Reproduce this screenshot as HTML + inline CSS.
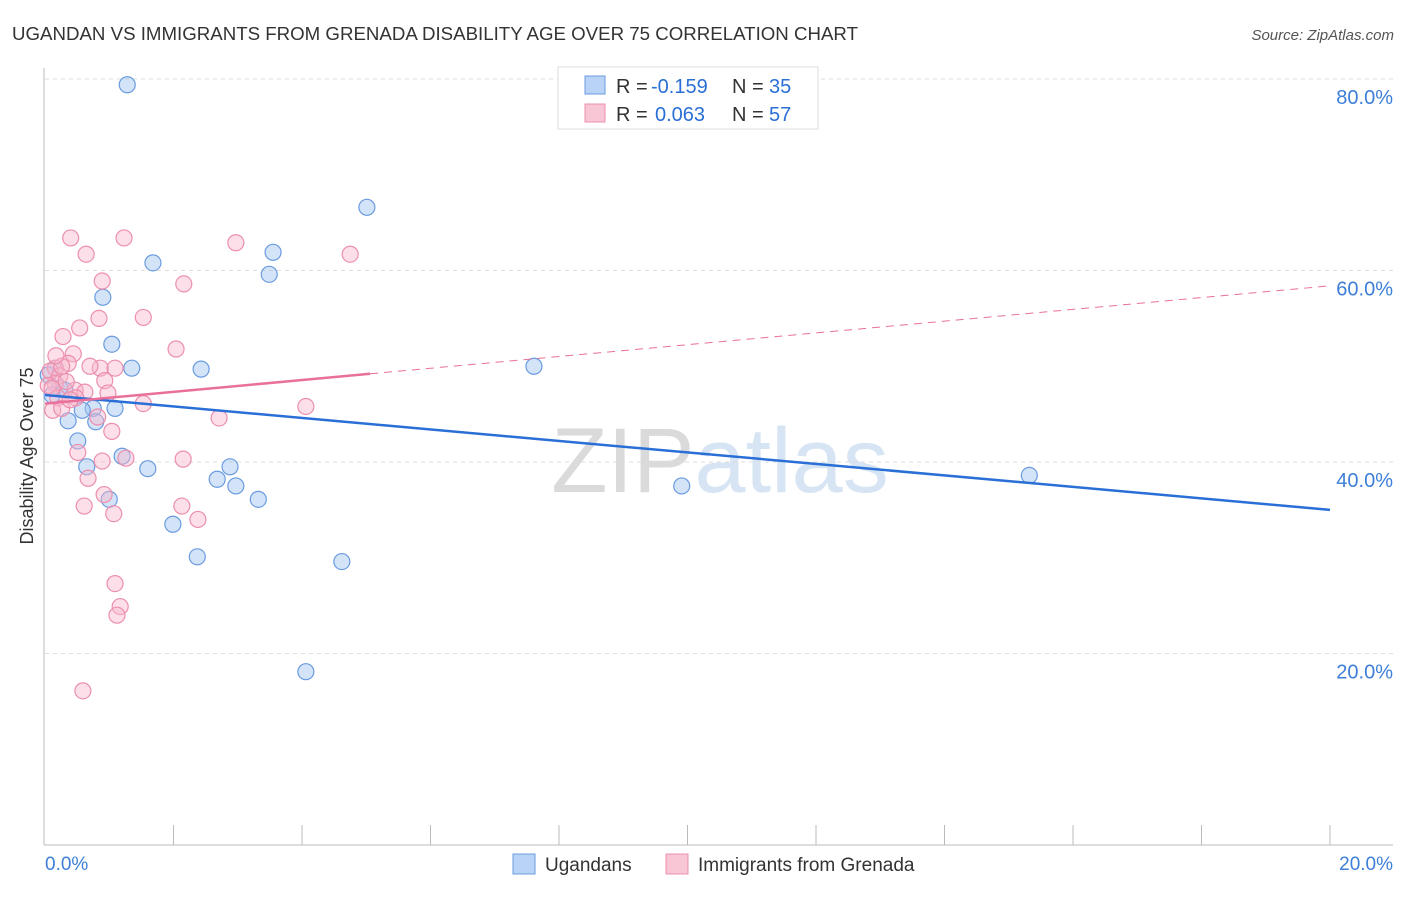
<!DOCTYPE html>
<html><head><meta charset="utf-8"><style>
body{margin:0;background:#fff;font-family:"Liberation Sans",sans-serif}
svg text{font-family:"Liberation Sans",sans-serif}
</style></head><body>
<svg id="c" width="1406" height="892">
<text x="12" y="40" font-size="18" fill="#333" textLength="846" lengthAdjust="spacingAndGlyphs">UGANDAN VS IMMIGRANTS FROM GRENADA DISABILITY AGE OVER 75 CORRELATION CHART</text>
<text x="1394" y="40" font-size="15" fill="#555" font-style="italic" text-anchor="end">Source: ZipAtlas.com</text>
<text x="720" y="492" font-size="92" fill="#e4e4e4" text-anchor="middle" font-family="Liberation Serif"><tspan fill="#dadada">ZIP</tspan><tspan fill="#d6e4f4" font-family="Liberation Sans">atlas</tspan></text>
<g id="grid"></g><g id="marks"></g>
<text transform="translate(33,456) rotate(-90)" font-size="18" fill="#333" text-anchor="middle">Disability Age Over 75</text>
<g>
<rect x="558" y="67" width="260" height="62" fill="#fff" stroke="#ddd"/>
<rect x="585" y="76" width="20" height="18" fill="#b8d3f5" stroke="#6a9be0"/>
<rect x="585" y="104" width="20" height="18" fill="#f9c6d5" stroke="#ec8fae"/>
<text x="616" y="93" font-size="20" fill="#333">R =</text>
<text x="651" y="93" font-size="20" fill="#2a6fd6">-0.159</text>
<text x="732" y="93" font-size="20" fill="#333">N =</text>
<text x="769" y="93" font-size="20" fill="#2a6fd6">35</text>
<text x="616" y="121" font-size="20" fill="#333">R =</text>
<text x="655" y="121" font-size="20" fill="#2a6fd6">0.063</text>
<text x="732" y="121" font-size="20" fill="#333">N =</text>
<text x="769" y="121" font-size="20" fill="#2a6fd6">57</text>
</g>
<g>
<rect x="513" y="854" width="22" height="20" fill="#b8d3f5" stroke="#6a9be0"/>
<text x="545" y="871" font-size="19" fill="#333">Ugandans</text>
<rect x="666" y="854" width="22" height="20" fill="#f9c6d5" stroke="#ec8fae"/>
<text x="698" y="871" font-size="19" fill="#333">Immigrants from Grenada</text>
</g>
</svg>
<script>
const blueX=[1.28,5.01,1.68,3.55,3.49,0.90,1.04,1.35,2.43,7.61,0.16,0.05,0.23,0.31,0.75,0.58,1.09,0.36,0.79,0.51,1.20,1.60,0.65,2.88,2.68,2.97,3.32,1.00,9.91,15.32,1.99,2.37,4.62,4.06,0.11];
const blueY=[79.4,66.6,60.8,61.9,59.6,57.2,52.3,49.8,49.7,50.0,49.8,49.1,47.7,47.5,45.6,45.4,45.6,44.3,44.2,42.2,40.6,39.3,39.5,39.5,38.2,37.5,36.1,36.1,37.5,38.6,33.5,30.1,29.6,18.1,47.0];
const pinkX=[0.40,1.23,2.97,0.64,4.75,0.89,2.16,1.53,0.84,0.54,0.28,2.04,0.44,0.36,0.86,1.09,0.16,0.08,0.23,0.93,0.16,0.05,0.47,0.62,0.98,0.20,0.48,1.53,4.06,0.12,0.26,0.82,2.71,1.04,1.26,0.51,2.15,0.89,0.67,0.92,2.13,0.61,2.38,1.07,1.09,1.17,1.12,0.59,0.11,0.26,0.39,0.70,0.33,0.17];
const pinkY=[63.4,63.4,62.9,61.7,61.7,58.9,58.6,55.1,55.0,54.0,53.1,51.8,51.3,50.3,49.8,49.8,49.8,49.5,49.0,48.5,48.2,48.0,47.5,47.3,47.2,46.7,46.7,46.1,45.8,45.4,45.6,44.7,44.6,43.2,40.4,41.0,40.3,40.1,38.3,36.6,35.4,35.4,34.0,34.6,27.3,24.9,24.0,16.1,47.7,50.0,46.5,50.0,48.4,51.1];
const yTicks=[20,40,60,80];
const xTickLabels=["0.0%","20.0%"];
const blueTrend=[47.0,35.0];
const pinkTrend=[46.1,58.4];
const pinkSolidEnd=5.06;
const NS="http://www.w3.org/2000/svg";
const sx=v=>45+v*64.25, sy=v=>845-v*9.575;
function mk(t,a,p){const e=document.createElementNS(NS,t);for(const k in a)e.setAttribute(k,a[k]);p.appendChild(e);return e;}
const g=document.getElementById('grid'), m=document.getElementById('marks');
mk('line',{x1:44,y1:68,x2:44,y2:845,stroke:'#bbb','stroke-width':1},g);
mk('line',{x1:44,y1:845,x2:1393,y2:845,stroke:'#bbb','stroke-width':1},g);
for(let i=1;i<=10;i++){const l=mk('line',{x1:sx(i*2),y1:825,x2:sx(i*2),y2:845,stroke:'#bbb'},g);

}
yTicks.forEach(v=>{const l=mk('line',{x1:45,y1:sy(v),x2:1393,y2:sy(v),stroke:'#ddd','stroke-dasharray':'4,4'},g);


const t=mk('text',{x:1393,y:sy(v)+25,'font-size':20,fill:'#3d7fd8','text-anchor':'end'},g);t.textContent=v.toFixed(1)+'%';

});
[[0,'start',45],[1,'end',1393]].forEach(([i,a,x])=>{const t=mk('text',{x:x,y:870,'font-size':19,fill:'#3d7fd8','text-anchor':a},g);t.textContent=xTickLabels[i];

});
blueX.forEach((x,i)=>{const c=mk('circle',{cx:sx(x),cy:sy(blueY[i]),r:8,fill:'rgba(160,196,240,0.45)',stroke:'#6a9be0','stroke-width':1.2},m);

});
pinkX.forEach((x,i)=>{const c=mk('circle',{cx:sx(x),cy:sy(pinkY[i]),r:8,fill:'rgba(248,184,204,0.45)',stroke:'#ec8fae','stroke-width':1.2},m);

});
const bt=mk('line',{x1:sx(0),y1:sy(blueTrend[0]),x2:sx(20),y2:sy(blueTrend[1]),stroke:'#2a6fd6','stroke-width':2.5},m);


const py=v=>pinkTrend[0]+(pinkTrend[1]-pinkTrend[0])*v/20;
const ps=mk('line',{x1:sx(0),y1:sy(pinkTrend[0]),x2:sx(pinkSolidEnd),y2:sy(py(pinkSolidEnd)),stroke:'#e8709a','stroke-width':2.5},m);


const pd=mk('line',{x1:sx(pinkSolidEnd),y1:sy(py(pinkSolidEnd)),x2:sx(20),y2:sy(pinkTrend[1]),stroke:'#e8709a','stroke-width':1,'stroke-dasharray':'8,6'},m);


</script>
</body></html>
